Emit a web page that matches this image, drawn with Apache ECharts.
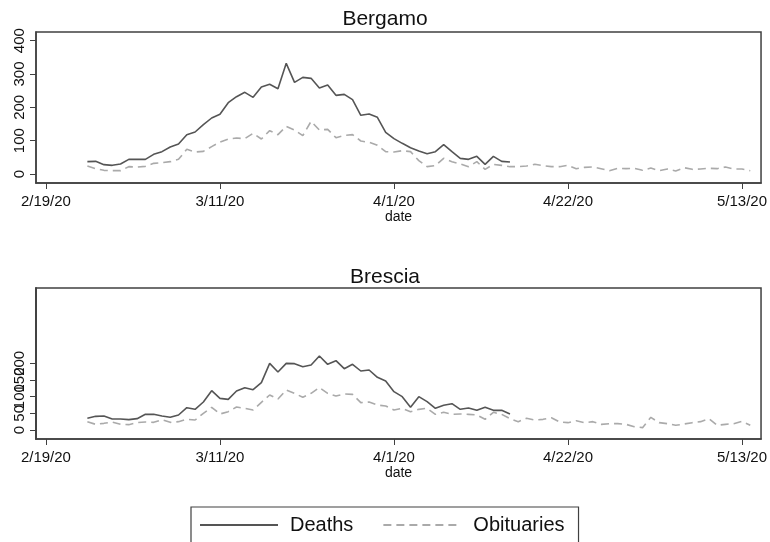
<!DOCTYPE html>
<html>
<head>
<meta charset="utf-8">
<script src="https://cdn.jsdelivr.net/npm/echarts@6/dist/echarts.min.js"></script>
<style>html,body{margin:0;padding:0;background:#fff}#c{width:770px;height:542px}</style>
</head>
<body>
<div id="c"></div>
<script>
// x axis: days since 2/19/20
const tickDays = [0, 21, 42, 63, 84];
const tickLabels = ['2/19/20', '3/11/20', '4/1/20', '4/22/20', '5/13/20'];
const firstDay = 5; // 2/24/20
const bergamoYTicks = [0, 100, 200, 300, 400];
const bresciaYTicks = [0, 50, 100, 150, 200];

const bergamoDeaths = [37, 38, 28, 26, 30, 44, 44, 44, 59, 67, 81, 90, 118, 126, 148, 168, 179, 214, 232, 245, 230, 261, 269, 256, 332, 275, 290, 287, 258, 267, 236, 239, 223, 176, 180, 170, 125, 106, 92, 79, 69, 61, 67, 88, 67, 47, 44, 53, 29, 53, 38, 36];
const bergamoObits = [24, 16, 11, 10, 10, 22, 21, 23, 32, 34, 37, 44, 74, 66, 68, 82, 96, 105, 108, 106, 122, 105, 130, 118, 143, 132, 115, 158, 132, 134, 109, 116, 118, 99, 95, 86, 67, 66, 70, 67, 40, 22, 25, 47, 37, 30, 22, 37, 14, 29, 26, 22, 22, 24, 29, 25, 22, 22, 26, 16, 20, 21, 16, 10, 17, 16, 17, 11, 18, 10, 15, 9, 19, 14, 15, 17, 16, 21, 15, 15, 10];
const bresciaDeaths = [35, 41, 42, 33, 33, 31, 34, 47, 47, 42, 38, 45, 67, 62, 84, 118, 95, 92, 117, 127, 121, 142, 200, 174, 200, 199, 190, 195, 222, 197, 208, 184, 197, 177, 180, 158, 147, 115, 100, 68, 100, 85, 65, 74, 79, 62, 66, 59, 68, 59, 59, 48];
const bresciaObits = [25, 17, 20, 24, 17, 16, 22, 24, 23, 31, 23, 25, 32, 30, 50, 68, 48, 55, 69, 65, 60, 83, 105, 93, 120, 110, 98, 110, 127, 110, 102, 108, 107, 82, 84, 75, 72, 60, 65, 55, 62, 65, 47, 53, 47, 48, 47, 45, 32, 53, 47, 34, 25, 35, 30, 32, 37, 24, 22, 28, 22, 25, 17, 19, 19, 17, 10, 7, 38, 22, 19, 14, 18, 22, 25, 34, 14, 17, 19, 26, 14];

const toPairs = arr => arr.map((v, i) => [firstDay + i, v]);

const FONT = '"Liberation Sans", Arial, sans-serif';
const AX = '#404040';
const YMIN = -27, YMAX = 426;

function xAxis(gi) {
  return {
    type: 'value', gridIndex: gi, min: -1.2, max: 86.3,
    name: 'date', nameLocation: 'middle', nameGap: 26,
    nameTextStyle: { fontFamily: FONT, fontSize: 14, color: '#111' },
    splitLine: { show: false },
    axisLine: { show: true, onZero: false, lineStyle: { color: AX, width: 1.5 } },
    axisTick: { show: true, length: 6, customValues: tickDays, lineStyle: { color: AX, width: 1 } },
    axisLabel: {
      customValues: tickDays, margin: 11, fontFamily: FONT, fontSize: 15, color: '#111',
      hideOverlap: false, showMinLabel: true, showMaxLabel: true,
      formatter: v => tickLabels[tickDays.indexOf(v)] || ''
    }
  };
}
function yAxis(gi, ticks) {
  return {
    type: 'value', gridIndex: gi, min: YMIN, max: YMAX, position: 'left', offset: 0,
    splitLine: { show: false },
    axisLine: { show: true, onZero: false, lineStyle: { color: AX, width: 1.5 } },
    axisTick: { show: true, length: 6, customValues: ticks, lineStyle: { color: AX, width: 1 } },
    axisLabel: {
      customValues: ticks, rotate: 90, margin: 9, fontFamily: FONT, fontSize: 15, color: '#111',
      hideOverlap: false, showMinLabel: true, showMaxLabel: true
    }
  };
}
// Brescia's tick labels overlap in the original; split them over two stacked left axes
const bresciaTicksA = bresciaYTicks.filter((v, i) => i % 2 === 0);
const bresciaTicksB = bresciaYTicks.filter((v, i) => i % 2 === 1);

const deathStyle = { color: '#555555', width: 1.6, type: 'solid' };
const obitStyle = { color: '#aaaaaa', width: 1.6, type: [8, 5] };

const option = {
  backgroundColor: '#fff',
  animation: false,
  title: [
    { text: 'Bergamo', left: 'center', top: 4, textStyle: { fontFamily: FONT, fontSize: 21, fontWeight: 'normal', color: '#111' } },
    { text: 'Brescia', left: 'center', top: 262, textStyle: { fontFamily: FONT, fontSize: 21, fontWeight: 'normal', color: '#111' } }
  ],
  grid: [
    { left: 36, right: 8, top: 32, height: 151, show: true, borderColor: AX, borderWidth: 1.5, backgroundColor: '#fff' },
    { left: 36, right: 8, top: 288, height: 151, show: true, borderColor: AX, borderWidth: 1.5, backgroundColor: '#fff' }
  ],
  xAxis: [xAxis(0), xAxis(1)],
  yAxis: [yAxis(0, bergamoYTicks), yAxis(1, bresciaTicksA), yAxis(1, bresciaTicksB)],
  legend: {
    left: 191, top: 507, orient: 'horizontal',
    data: ['Deaths', 'Obituaries'],
    itemWidth: 78, itemHeight: 14, itemGap: 29,
    padding: [8, 14, 30, 8],
    borderColor: AX, borderWidth: 1.2,
    itemStyle: { opacity: 0 },
    textStyle: { fontFamily: FONT, fontSize: 20, color: '#111', padding: [0, 0, 0, 7] }
  },
  series: [
    { name: 'Deaths', type: 'line', xAxisIndex: 0, yAxisIndex: 0, data: toPairs(bergamoDeaths), symbol: 'none', lineStyle: deathStyle, itemStyle: { color: '#555555' } },
    { name: 'Obituaries', type: 'line', xAxisIndex: 0, yAxisIndex: 0, data: toPairs(bergamoObits), symbol: 'none', lineStyle: obitStyle, itemStyle: { color: '#aaaaaa' } },
    { name: 'Deaths', type: 'line', xAxisIndex: 1, yAxisIndex: 1, data: toPairs(bresciaDeaths), symbol: 'none', lineStyle: deathStyle, itemStyle: { color: '#555555' } },
    { name: 'Obituaries', type: 'line', xAxisIndex: 1, yAxisIndex: 1, data: toPairs(bresciaObits), symbol: 'none', lineStyle: obitStyle, itemStyle: { color: '#aaaaaa' } }
  ]
};
const chart = echarts.init(document.getElementById('c'), null, { renderer: 'canvas' });
chart.setOption(option);
</script>
</body>
</html>
